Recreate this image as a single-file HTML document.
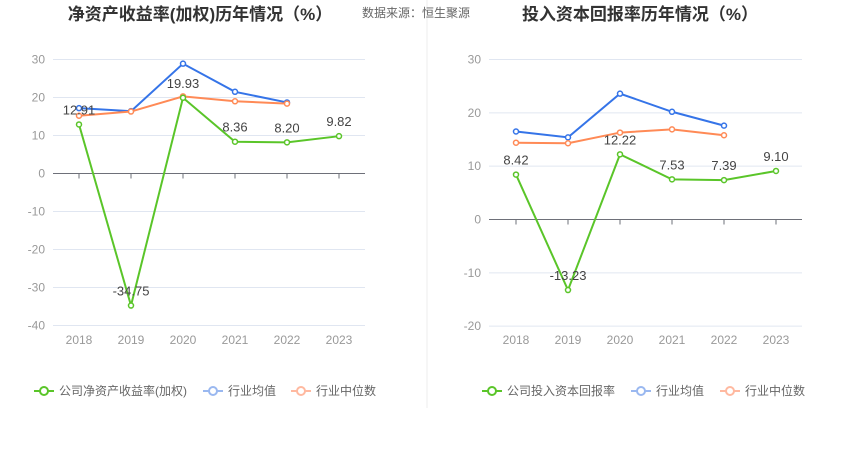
<!DOCTYPE html>
<html><head><meta charset="utf-8"><style>
body{margin:0;background:#fff;width:850px;height:458px;overflow:hidden;font-family:"Liberation Sans","Noto Sans CJK SC",sans-serif}
svg text{font-family:"Liberation Sans","Noto Sans CJK SC",sans-serif}
</style></head><body>
<svg id="s" width="850" height="458">
<line x1="427" y1="0" x2="427" y2="408" stroke="#eee"/>
<text x="200" y="20" text-anchor="middle" font-size="17" font-weight="bold" fill="#333">净资产收益率(加权)历年情况（%）</text>
<text x="362" y="17" font-size="12" fill="#666">数据来源：恒生聚源</text>
<text x="640" y="20" text-anchor="middle" font-size="17" font-weight="bold" fill="#333">投入资本回报率历年情况（%）</text>
</svg>
<script>
const years=["2018","2019","2020","2021","2022","2023"];
const roe=[12.91,-34.75,19.93,8.36,8.20,9.82];
const roeAvg=[17.2,16.4,28.9,21.5,18.7];
const roeMed=[15.2,16.3,20.3,19.0,18.4];
const roeTicks=[30,20,10,0,-10,-20,-30,-40];
const roic=[8.42,-13.23,12.22,7.53,7.39,9.10];
const roicAvg=[16.5,15.4,23.6,20.2,17.6];
const roicMed=[14.4,14.3,16.3,16.9,15.8];
const roicTicks=[30,20,10,0,-10,-20];
const svg=document.getElementById('s');
const NS='http://www.w3.org/2000/svg';
function mk(t,a,p){const e=document.createElementNS(NS,t);for(const k in a)e.setAttribute(k,a[k]);(p||svg).appendChild(e);return e;}
function chart(o){
 const g=mk('g',{});
 
 
 const y=v=>o.y0-(v)*o.k;
 const x=i=>o.x0+i*52;
 o.ticks.forEach(t=>{
  if(t!==0){const l=mk('line',{x1:o.l,x2:o.r,y1:y(t),y2:y(t),stroke:'#e0e6f1'},g);}
  const tx=mk('text',{x:o.l-8,y:y(t)+4,'text-anchor':'end','font-size':12,fill:'#999'},g);tx.textContent=t;
  
 });
 const ax=mk('line',{x1:o.l,x2:o.r,y1:y(0),y2:y(0),stroke:'#6e7079'},g);
 
 years.forEach((yr,i)=>{
  const tk=mk('line',{x1:x(i),x2:x(i),y1:y(0),y2:y(0)+5,stroke:'#6e7079'},g);
  
  const t=mk('text',{x:x(i),y:344,'text-anchor':'middle','font-size':12,fill:'#999'},g);t.textContent=yr;
  
 });
 const series=[[o.avg,'#3574e8','avg'],[o.med,'#ff8a56','median'],[o.main,'#5ac529','company']];
 series.forEach(([d,c,n])=>{
  const p=mk('polyline',{points:d.map((v,i)=>x(i)+','+y(v)).join(' '),fill:'none',stroke:c,'stroke-width':2},g);
  
  d.forEach((v,i)=>{const ci=mk('circle',{cx:x(i),cy:y(v),r:2.5,fill:'#fff',stroke:c,'stroke-width':1.5},g);
   });
 });
 o.main.forEach((v,i)=>{const t=mk('text',{x:x(i),y:y(v)-10,'text-anchor':'middle','font-size':13,fill:'#444'},g);
  t.textContent=v.toFixed(2);});
 const lg=[[o.label,'#5ac529'],['行业均值','#9ab8f0'],['行业中位数','#ffb9a0']];
 lg.forEach(([t,c],j)=>{
  const lx=o.lx[j];
  const l=mk('g',{},g);
  mk('line',{x1:lx,x2:lx+20,y1:391,y2:391,stroke:c,'stroke-width':2},l);
  mk('circle',{cx:lx+10,cy:391,r:4,fill:'#fff',stroke:c,'stroke-width':2},l);
  const tx=mk('text',{x:lx+25,y:395,'font-size':12,fill:'#666'},l);tx.textContent=t;
 });
}
chart({name:'roe-chart',x0:79,y0:173.5,k:3.8,l:53,r:365,ticks:roeTicks,main:roe,avg:roeAvg,med:roeMed,label:'公司净资产收益率(加权)',lx:[34,203,291]});
chart({name:'roic-chart',x0:516,y0:219.5,k:5.333,l:489,r:802,ticks:roicTicks,main:roic,avg:roicAvg,med:roicMed,label:'公司投入资本回报率',lx:[482,631,720]});
</script>
</body></html>
